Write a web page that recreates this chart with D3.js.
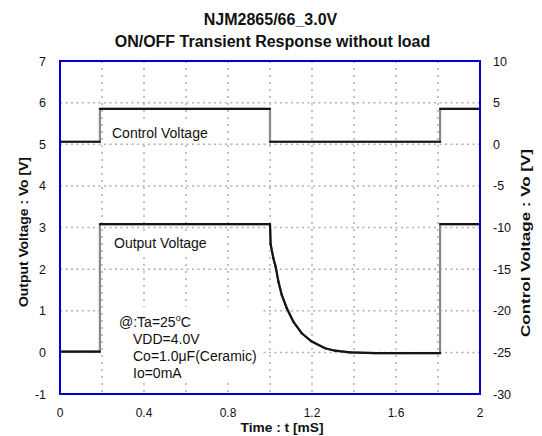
<!DOCTYPE html>
<html><head><meta charset="utf-8">
<script src="https://cdn.jsdelivr.net/npm/d3@7"></script>
<style>
body{margin:0;background:#fff;}
svg{display:block;font-family:"Liberation Sans",Arial,sans-serif;}
</style></head>
<body><svg id="c" width="542" height="436"></svg>
<script>
// ---- data ----
const title1 = "NJM2865/66_3.0V";
const title2 = "ON/OFF Transient Response without load";
const xTicks = [0, 0.4, 0.8, 1.2, 1.6, 2];
const xGrid = [0.2, 0.4, 0.6, 0.8, 1.0, 1.2, 1.4, 1.6, 1.8];
const leftTicks = [-1, 0, 1, 2, 3, 4, 5, 6, 7];
const rightTicks = [-30, -25, -20, -15, -10, -5, 0, 5, 10];
// Control voltage (right axis)
const controlT = [0, 0.19, 0.19, 1.0, 1.0, 1.81, 1.81, 2.0];
const controlV = [0.3, 0.3, 4.25, 4.25, 0.3, 0.3, 4.25, 4.25];
// Output voltage (left axis)
const outputT = [0, 0.19, 0.19, 1.0, 1.003, 1.016, 1.027, 1.04, 1.056, 1.08, 1.111, 1.151, 1.199, 1.262, 1.31, 1.38, 1.5, 1.65, 1.81, 1.81, 2.0];
const outputV = [0.02, 0.02, 3.08, 3.08, 2.6, 2.26, 2.06, 1.7, 1.38, 1.06, 0.74, 0.46, 0.26, 0.1, 0.04, 0.0, -0.02, -0.02, -0.02, 3.08, 3.08];
const notes = ["VDD=4.0V", "Co=1.0\u03BCF(Ceramic)", "Io=0mA"];

// ---- layout ----
const L = 60, R = 480, T = 61, B = 394;
const svg = d3.select("#c");
const x = d3.scaleLinear().domain([0, 2]).range([L, R]);
const yL = d3.scaleLinear().domain([-1, 7]).range([B, T]);
const yR = d3.scaleLinear().domain([-30, 10]).range([B, T]);

// grid
const g = svg.append("g");
g.selectAll(".hg").data(leftTicks.filter(d => d > -1 && d < 7)).enter().append("line")
  .attr("x1", L).attr("x2", R).attr("y1", d => yL(d)).attr("y2", d => yL(d))
  .attr("stroke", "#b0b0b0").attr("stroke-width", 1.5).attr("stroke-dasharray", "2,3.5");
g.selectAll(".vg").data(xGrid).enter().append("line")
  .attr("x1", d => x(d)).attr("x2", d => x(d)).attr("y1", T).attr("y2", B)
  .attr("stroke", "#b0b0b0").attr("stroke-width", 1.5).attr("stroke-dasharray", "2,5");

function label(txt, px, py, size) {
  return svg.append("text").attr("x", px).attr("y", py).attr("font-size", size).attr("fill", "#111").text(txt);
}

// traces: light underlay (shows on vertical edges), darker horizontal runs
const lineL = d3.line().x(d => x(d[0])).y(d => yL(d[1]));
const lineR = d3.line().x(d => x(d[0])).y(d => yR(d[1]));
const ctrl = controlT.map((t, i) => [t, controlV[i]]);
const outp = outputT.map((t, i) => [t, outputV[i]]);
[[ctrl, lineR], [outp, lineL]].forEach(([data, ln]) => {
  svg.append("path").datum(data).attr("d", ln).attr("fill", "none")
    .attr("stroke", "#8a8a8a").attr("stroke-width", 2.2);
  for (let i = 0; i < data.length - 1; i++) {
    if (data[i][0] === data[i + 1][0]) continue;
    svg.append("path").datum([data[i], data[i + 1]]).attr("d", ln).attr("fill", "none")
      .attr("stroke", "#151515").attr("stroke-width", 2.2).attr("stroke-linecap", "round");
  }
});

// white boxes under in-plot labels
svg.append("rect").attr("x", 108).attr("y", 124).attr("width", 102).attr("height", 18).attr("fill", "#fff");
svg.append("rect").attr("x", 110).attr("y", 234).attr("width", 99).attr("height", 18).attr("fill", "#fff");
svg.append("rect").attr("x", 104).attr("y", 307).attr("width", 158).attr("height", 75).attr("fill", "#fff");

label("Control Voltage", 112, 138, 14);
label("Output Voltage", 114, 248, 14);
const t1 = svg.append("text").attr("x", 119).attr("y", 327).attr("font-size", 14).attr("fill", "#111");
t1.append("tspan").text("@:Ta=25");
t1.append("tspan").attr("font-size", 9).attr("dy", -6).text("o");
t1.append("tspan").attr("dy", 6).text("C");
notes.forEach((n, i) => label(n, 133, 344 + i * 17, 14));

// frame
svg.append("rect").attr("x", L).attr("y", T).attr("width", R - L).attr("height", B - T)
  .attr("fill", "none").attr("stroke", "#0000cc").attr("stroke-width", 2);

// tick labels
svg.selectAll(".lt").data(leftTicks).enter().append("text")
  .attr("x", 46).attr("y", d => yL(d) + 4.5).attr("text-anchor", "end").attr("font-size", 12.5).attr("fill", "#111").text(d => d);
svg.selectAll(".rt").data(rightTicks).enter().append("text")
  .attr("x", 493).attr("y", d => yR(d) + 4.5).attr("text-anchor", "start").attr("font-size", 12.5).attr("fill", "#111").text(d => d);
svg.selectAll(".xt").data(xTicks).enter().append("text")
  .attr("x", d => x(d)).attr("y", 416.5).attr("text-anchor", "middle").attr("font-size", 12).attr("fill", "#111").text(d => d);

// axis titles
svg.append("text").attr("x", 282).attr("y", 432).attr("text-anchor", "middle").attr("font-size", 13).attr("font-weight", "bold").attr("fill", "#111")
  .attr("textLength", 83).attr("lengthAdjust", "spacingAndGlyphs").text("Time : t [mS]");
svg.append("text").attr("transform", "translate(27.5,232) rotate(-90)").attr("text-anchor", "middle").attr("font-size", 13).attr("font-weight", "bold").attr("fill", "#111")
  .attr("textLength", 150).attr("lengthAdjust", "spacingAndGlyphs").text("Output Voltage : Vo [V]");
svg.append("text").attr("transform", "translate(530,243) rotate(-90)").attr("text-anchor", "middle").attr("font-size", 13).attr("font-weight", "bold").attr("fill", "#111")
  .attr("textLength", 188).attr("lengthAdjust", "spacingAndGlyphs").text("Control Voltage : Vo [V]");

// titles
svg.append("text").attr("x", 270.5).attr("y", 25).attr("text-anchor", "middle").attr("font-size", 16).attr("font-weight", "bold").attr("fill", "#111").text(title1);
svg.append("text").attr("x", 272.5).attr("y", 47).attr("text-anchor", "middle").attr("font-size", 16).attr("font-weight", "bold").attr("fill", "#111").text(title2);
</script></body></html>
